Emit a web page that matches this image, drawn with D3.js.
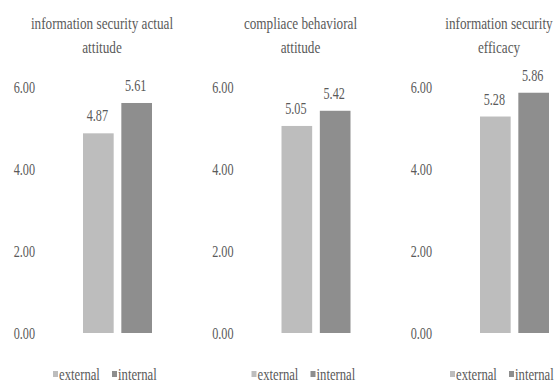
<!DOCTYPE html>
<html>
<head>
<meta charset="utf-8">
<script src="https://cdn.jsdelivr.net/npm/d3@7"></script>
<style>
  html, body { margin: 0; padding: 0; background: #fff; }
  svg { display: block; }
  text { font-family: "Liberation Serif", "Times New Roman", serif; fill: #5a5a5a; }
</style>
</head>
<body>
<svg id="chart" width="560" height="385"></svg>
<script>
// Mean scores by group, one small chart per construct
const titleLines = [
  ["information security actual", "attitude"],
  ["compliace behavioral", "attitude"],
  ["information security", "efficacy"]
];
const seriesNames = ["external", "internal"];
const externalValues = [4.87, 5.05, 5.28];
const internalValues = [5.61, 5.42, 5.86];
const yTicks = [0, 2, 4, 6];

const colors = { external: "#bdbdbd", internal: "#8e8e8e" };
const fontSize = 16.5;

const svg = d3.select("#chart");
const panelStep = 198.5;
const y = d3.scaleLinear().domain([0, 6]).range([333, 87]);

// place a text label with a narrow horizontal scale around its anchor
function label(g, x, yPos, str, anchor, squeeze) {
  return g.append("text")
    .attr("transform", `translate(${x},${yPos}) scale(${squeeze},1)`)
    .attr("text-anchor", anchor)
    .style("font-size", fontSize + "px")
    .text(str);
}

titleLines.forEach((lines, i) => {
  const g = svg.append("g").attr("transform", `translate(${i * panelStep},0)`);
  const values = { external: externalValues[i], internal: internalValues[i] };

  const x = d3.scaleBand().domain(seriesNames).range([83, 152]).paddingInner(0.2).paddingOuter(0);

  // title
  lines.forEach((ln, k) => label(g, 102, 29 + k * 23.5, ln, "middle", 0.8));

  // value axis
  const axis = g.append("g")
    .attr("transform", "translate(35,0)")
    .call(d3.axisLeft(y).tickValues(yTicks).tickFormat(d3.format(".2f")).tickSize(0).tickPadding(0));
  axis.select(".domain").remove();
  axis.selectAll("text")
    .attr("x", null).attr("dy", "0.35em")
    .attr("transform", "scale(0.74,1)")
    .style("font-size", fontSize + "px")
    .attr("fill", null);

  // bars
  g.selectAll("rect.bar").data(seriesNames).join("rect")
    .attr("class", "bar")
    .attr("x", d => x(d))
    .attr("width", x.bandwidth())
    .attr("y", d => y(values[d]))
    .attr("height", d => y(0) - y(values[d]))
    .attr("fill", d => colors[d]);

  // value labels
  seriesNames.forEach(s => {
    label(g, x(s) + x.bandwidth() / 2 - 1, y(values[s]) - 12, values[s].toFixed(2), "middle", 0.74);
  });

  // legend
  const legendX = [53, 112];
  seriesNames.forEach((s, k) => {
    g.append("rect")
      .attr("x", legendX[k]).attr("y", 371)
      .attr("width", 5).attr("height", 6)
      .attr("fill", colors[s]);
    label(g, legendX[k] + 6, 379.5, s, "start", 0.77);
  });
});
</script>
</body>
</html>
